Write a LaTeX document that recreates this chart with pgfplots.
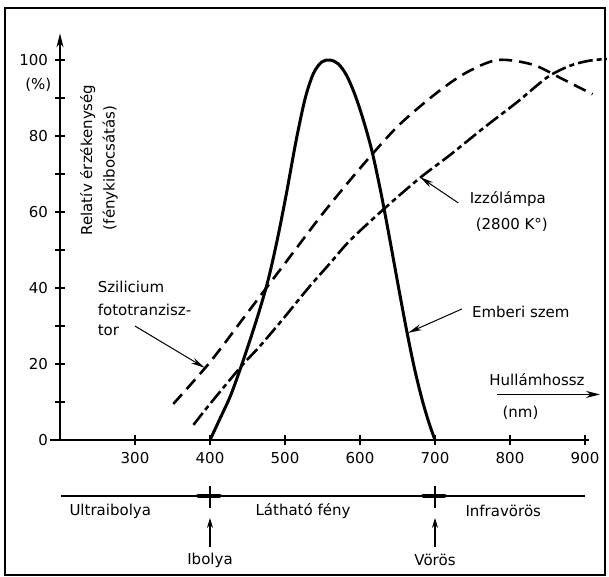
\documentclass[border=0pt]{standalone}
\usepackage{pgfplots}
\pgfplotsset{compat=1.18}
\usepackage{pgfplotstable}
\usepackage{fontspec}
\setmainfont{DejaVu Sans}
\usetikzlibrary{arrows.meta}

% human eye (solid)
\pgfplotstableread{
lam v
400 0
413 5.5
427 11.5
440 18.5
452 25.5
465 33.5
478 42.5
490 53
502 65
515 79
527 90
538 96.5
549 99.5
560 100
571 99
582 96
593 91
604 84.5
616 76
628 65
640 52.5
652 39.5
663 28
673 18.5
683 10.5
692 4.5
700 0
}\szem

% silicon phototransistor (dashed)
\pgfplotstableread{
lam v
351 9.5
400 20.5
450 33.5
500 46.5
550 59.5
600 71.5
650 82.5
700 91
740 96.5
783 100
830 98.8
870 95
910 91
}\szilicium

% incandescent lamp (dash-dot)
\pgfplotstableread{
lam v
378 4
400 9.5
443 19.7
467 24.8
500 32.5
531 40
560 46.5
587 52.6
633 61
680 69
720 75
764 82
810 89
850 95.5
880 98.5
905 99.8
929 100.3
}\lampa

\begin{document}
\begin{tikzpicture}[font=\fontsize{7.5}{9}\selectfont]
\begin{axis}[
  x=0.375pt, y=1.9pt,
  xmin=200, xmax=905, ymin=0, ymax=107,
  axis x line*=bottom, axis y line=left,
  axis line style={line width=0.8pt},
  y axis line style={-{Stealth[length=7pt,width=3.5pt]}},
  xtick={300,400,...,900},
  ytick={0,20,...,100},
  minor ytick={10,30,...,90},
  tick align=center,
  major tick length=5pt, minor tick length=5pt,
  tick style={line width=0.7pt, black},
  ticklabel style={font=\fontsize{7.5}{9}\selectfont},
  /pgf/number format/assume math mode=true,
  clip=false,
]
\addplot[black, line width=1.5pt, smooth, tension=0.5] table[x=lam, y=v] {\szem};
\addplot[black, line width=1.3pt, smooth, dash pattern=on 6.5pt off 3.5pt] table[x=lam, y=v] {\szilicium};
\addplot[black, line width=1.3pt, smooth, dash pattern=on 7.5pt off 2pt on 2.5pt off 2pt] table[x=lam, y=v] {\lampa};

% frame and bounds
\path (axis cs:120,-35.8) rectangle (axis cs:932,115.8);
\draw[line width=0.8pt] (axis cs:126.7,-35.5) rectangle (axis cs:927,113.7);
\draw[line width=0.8pt] (axis cs:186,0) -- (axis cs:200,0);

% axis texts
\node[rotate=90] at (axis cs:237,73.7) {Relatív érzékenység};
\node[rotate=90] at (axis cs:267,71.6) {(fénykibocsátás)};
\node at (axis cs:171,93.4) {(\%)};

% curve labels
\node[anchor=west] at (axis cs:241,40.3) {Szilicium};
\node[anchor=west] at (axis cs:241,34.2) {fototranzisz-};
\node[anchor=west] at (axis cs:241,28.9) {tor};
\draw[-{Stealth[length=7pt,width=3pt]}, line width=0.5pt] (axis cs:300,30) -- (axis cs:393,19);

\node[anchor=west] at (axis cs:737,63.4) {Izzólámpa};
\node[anchor=west] at (axis cs:745,56.6) {(2800 K°)};
\draw[-{Stealth[length=7pt,width=3pt]}, line width=0.5pt] (axis cs:731,62.4) -- (axis cs:680,69.2);

\node[anchor=west] at (axis cs:740,33.7) {Emberi szem};
\draw[-{Stealth[length=7pt,width=3pt]}, line width=0.5pt] (axis cs:736,34.5) -- (axis cs:664,28.2);

\node at (axis cs:836,15.8) {Hullámhossz};
\draw[-{Stealth[length=7pt,width=3.5pt]}, line width=0.9pt] (axis cs:783,12) -- (axis cs:920,12);
\node at (axis cs:814,7.3) {(nm)};

% spectrum band
\draw[line width=0.6pt] (axis cs:201,-14.7) -- (axis cs:900,-14.7);
\draw[line width=1.6pt, {Latex[length=3pt]}-{Latex[length=3pt]}] (axis cs:377,-14.7) -- (axis cs:420,-14.7);
\draw[line width=0.8pt] (axis cs:400,-12) -- (axis cs:400,-18);
\draw[-{Stealth[length=5pt,width=3pt]}, line width=0.8pt] (axis cs:400,-28.2) -- (axis cs:400,-20.5);
\draw[line width=1.6pt, {Latex[length=3pt]}-{Latex[length=3pt]}] (axis cs:677,-14.7) -- (axis cs:720,-14.7);
\draw[line width=0.8pt] (axis cs:700,-12) -- (axis cs:700,-18);
\draw[-{Stealth[length=5pt,width=3pt]}, line width=0.8pt] (axis cs:700,-28.2) -- (axis cs:700,-20.5);
\node at (axis cs:267,-18.7) {Ultraibolya};
\node at (axis cs:524,-18.7) {Látható fény};
\node at (axis cs:791,-18.7) {Infravörös};
\node at (axis cs:400,-31.6) {Ibolya};
\node at (axis cs:700,-31.6) {Vörös};
\end{axis}
\end{tikzpicture}
\end{document}
